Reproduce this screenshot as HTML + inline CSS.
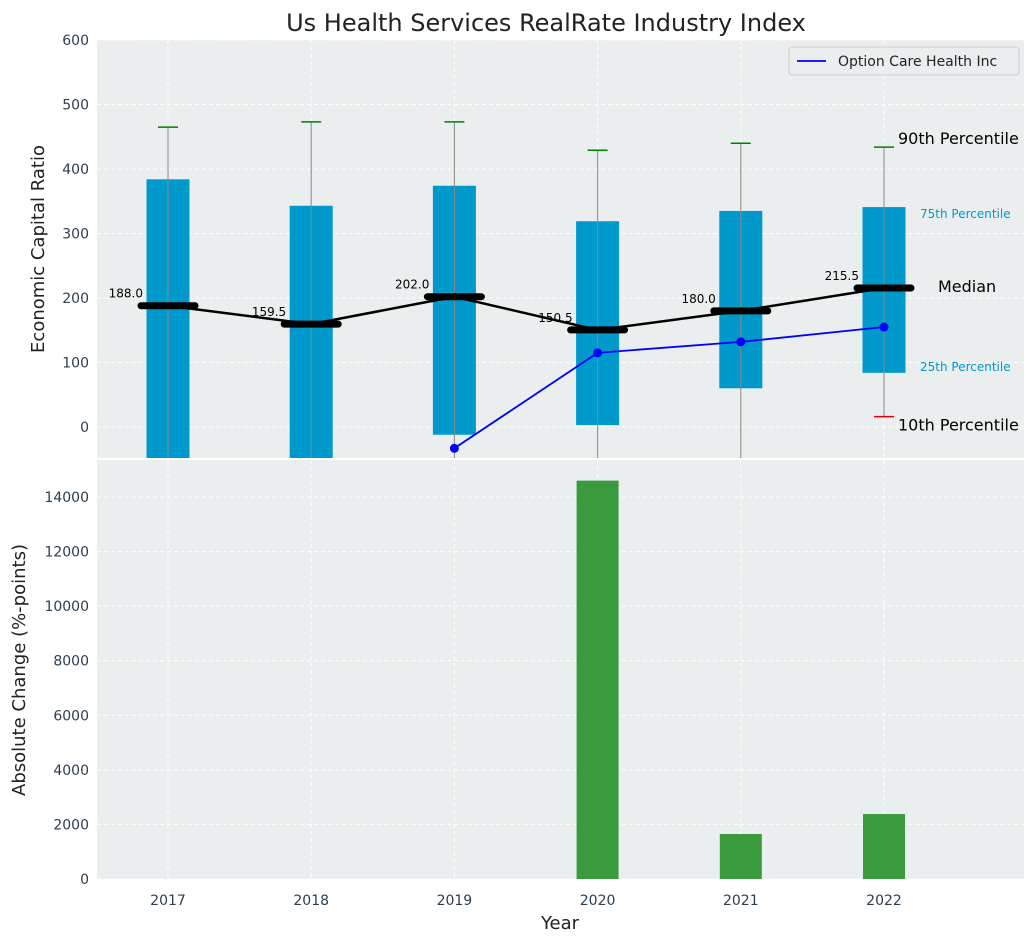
<!DOCTYPE html>
<html><head><meta charset="utf-8"><style>
body{margin:0;background:#fff;}
svg text{font-family:"DejaVu Sans","Liberation Sans",sans-serif;}
</style></head><body>
<svg id="chart" width="1035" height="942" xmlns="http://www.w3.org/2000/svg">
<rect x="0" y="0" width="1035" height="942" fill="#fff"/>
<text x="546" y="31" font-size="24" text-anchor="middle" fill="#222">Us Health Services RealRate Industry Index</text>
<g id="topPanel"></g>
<g id="botPanel"></g>
</svg>
<script>
const years=['2017','2018','2019','2020','2021','2022'];
const p90=[465,473,473,429,440,434];
const p75=[384,343,374,319,335,341];
const medians=[188.0,159.5,202.0,150.5,180.0,215.5];
const p25=[-60,-60,-12,3,60,84];
const p10=[-80,-80,-80,-80,-80,16];
const companyYears=[2,3,4,5];
const companyVals=[-33,115,132,155];
const changeVals=[0,0,0,14600,1650,2380];
const topTicks=[0,100,200,300,400,500,600];
const botTicks=[0,2000,4000,6000,8000,10000,12000,14000];

const NS='http://www.w3.org/2000/svg';
function mk(parent,tag,attrs,text){const e=document.createElementNS(NS,tag);for(const k in attrs)e.setAttribute(k,attrs[k]);if(text!==undefined)e.textContent=text;parent.appendChild(e);return e;}
const L=97,R=1024;
const xs=i=>168+i*143.2;
const yT=v=>427-v*0.645;
const yB=v=>879-v*(382/14000);
const topG=document.getElementById('topPanel'),botG=document.getElementById('botPanel');
const svgRoot=document.getElementById('chart');
let r=mk(topG,'rect',{x:L,y:40,width:R-L,height:418,fill:'#eaeeef'});


r=mk(botG,'rect',{x:L,y:460,width:R-L,height:419,fill:'#eaeeef'});


const cp=mk(topG,'clipPath',{id:'ct'});mk(cp,'rect',{x:L,y:40,width:R-L,height:418});
const tg=mk(topG,'g',{'clip-path':'url(#ct)'});
topTicks.forEach(t=>{mk(tg,'line',{x1:L,x2:R,y1:yT(t),y2:yT(t),stroke:'#fff','stroke-dasharray':'4,3'});
 const e=mk(topG,'text',{x:L-8,y:yT(t)+5,'font-size':14,'text-anchor':'end',fill:'#2c3e50'},t);
 
 });
botTicks.forEach(t=>{mk(botG,'line',{x1:L,x2:R,y1:yB(t),y2:yB(t),stroke:'#fff','stroke-dasharray':'4,3'});
 const e=mk(botG,'text',{x:L-8,y:yB(t)+5,'font-size':14,'text-anchor':'end',fill:'#2c3e50'},t);
 
 });
years.forEach((y,i)=>{mk(tg,'line',{x1:xs(i),x2:xs(i),y1:40,y2:458,stroke:'#fff','stroke-dasharray':'4,3'});
 mk(botG,'line',{x1:xs(i),x2:xs(i),y1:460,y2:879,stroke:'#fff','stroke-dasharray':'4,3'});
 const e=mk(botG,'text',{x:xs(i),y:905,'font-size':14,'text-anchor':'middle',fill:'#2c3e50'},y);
 
 });
const bw=43;
years.forEach((y,i)=>{
 const b=mk(tg,'rect',{x:xs(i)-bw/2,y:yT(p75[i]),width:bw,height:yT(p25[i])-yT(p75[i]),fill:'#0099cc'});
 
 
 mk(tg,'line',{x1:xs(i),x2:xs(i),y1:yT(p90[i]),y2:yT(p10[i]),stroke:'#888','stroke-width':1});
 mk(tg,'line',{x1:xs(i)-10,x2:xs(i)+10,y1:yT(p90[i]),y2:yT(p90[i]),stroke:'green','stroke-width':1.5});
 if(p10[i]>-48)mk(tg,'line',{x1:xs(i)-10,x2:xs(i)+10,y1:yT(p10[i]),y2:yT(p10[i]),stroke:'#d00','stroke-width':1.5});
});
mk(tg,'polyline',{points:medians.map((m,i)=>xs(i)+','+yT(m)).join(' '),fill:'none',stroke:'#000','stroke-width':2.5});
medians.forEach((m,i)=>{
 const l=mk(tg,'line',{x1:xs(i)-27,x2:xs(i)+27,y1:yT(m),y2:yT(m),stroke:'#000','stroke-width':7,'stroke-linecap':'round'});
 
 
 mk(topG,'text',{x:xs(i)-25,y:yT(m)-8,'font-size':12,'text-anchor':'end',fill:'#000'},m.toFixed(1));
});
mk(tg,'polyline',{points:companyYears.map((c,k)=>xs(c)+','+yT(companyVals[k])).join(' '),fill:'none',stroke:'#0000ff','stroke-width':1.8});
companyYears.forEach((c,k)=>{const d=mk(topG,'circle',{cx:xs(c),cy:yT(companyVals[k]),r:4.5,fill:'#0000ff'});
 
 });
const ax=xs(5);
mk(topG,'text',{x:ax+14,y:yT(p90[5])-3,'font-size':16,fill:'#000'},'90th Percentile');
mk(topG,'text',{x:ax+36,y:yT(p75[5])+11,'font-size':12,fill:'#0099cc'},'75th Percentile');
mk(topG,'text',{x:ax+54,y:yT(medians[5])+4,'font-size':16,fill:'#000'},'Median');
mk(topG,'text',{x:ax+36,y:yT(p25[5])-2,'font-size':12,fill:'#0099cc'},'25th Percentile');
mk(topG,'text',{x:ax+14,y:yT(p10[5])+14,'font-size':16,fill:'#000'},'10th Percentile');
const lg=mk(topG,'g',{});


mk(lg,'rect',{x:789,y:47,width:230,height:28,rx:3,fill:'#eaeeef',stroke:'#ccc'});
mk(lg,'line',{x1:797,x2:826,y1:61,y2:61,stroke:'#0000ff','stroke-width':1.8});
mk(lg,'text',{x:838,y:66,'font-size':14,fill:'#222'},'Option Care Health Inc');
changeVals.forEach((v,i)=>{if(v<=0)return;
 const b=mk(botG,'rect',{x:xs(i)-21,y:yB(v),width:42,height:yB(0)-yB(v),fill:'#3a9b3e'});
 
 });
let t=mk(svgRoot,'text',{x:44,y:249,'font-size':18,'text-anchor':'middle',fill:'#222',transform:'rotate(-90 44 249)'},'Economic Capital Ratio');


t=mk(svgRoot,'text',{x:25,y:670,'font-size':18,'text-anchor':'middle',fill:'#222',transform:'rotate(-90 25 670)'},'Absolute Change (%-points)');


t=mk(svgRoot,'text',{x:560,y:929,'font-size':18,'text-anchor':'middle',fill:'#222'},'Year');


</script>
</body></html>
